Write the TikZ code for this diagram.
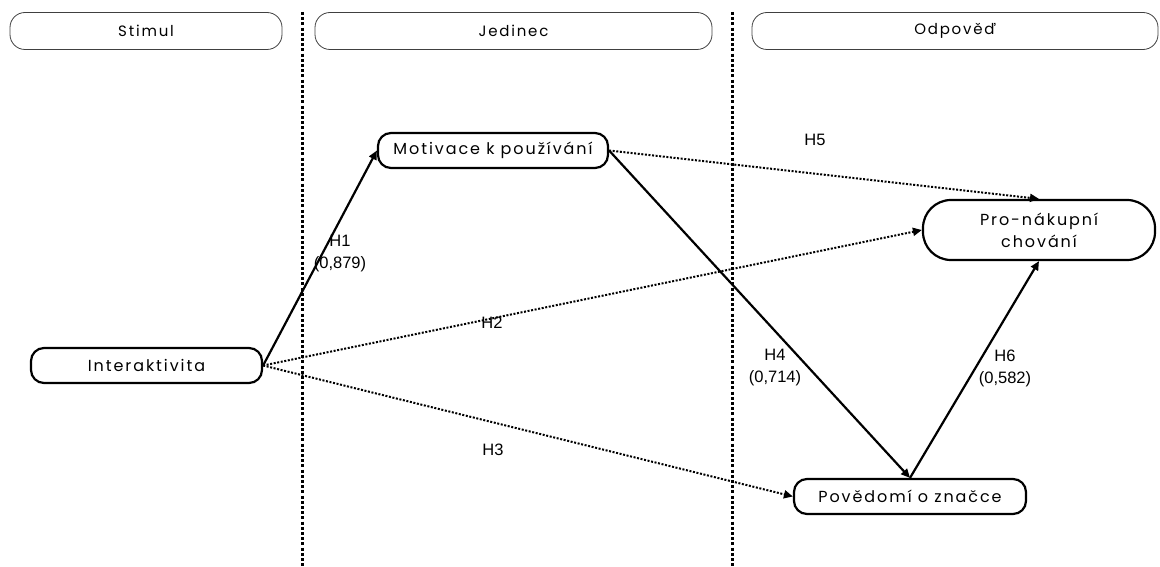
\documentclass[tikz,border=0pt]{standalone}
\usepackage{fontspec}
\setmainfont{Poppins}[LetterSpace=12]
\newfontfamily\labelfont{Liberation Sans}
\usetikzlibrary{arrows.meta}
\begin{document}
\begin{tikzpicture}[x=1pt,y=-1pt,
  header/.style={draw=black!75,line width=0.8pt,rounded corners=15pt,
    minimum height=37pt,inner sep=0pt,font=\fontsize{15}{17}\selectfont},
  factor/.style={draw,line width=2.2pt,rounded corners=13pt,minimum height=35pt,
    minimum width=230pt,inner sep=0pt,align=center,font=\fontsize{16}{22}\selectfont},
  pill/.style={factor,rounded corners=28pt,minimum height=60pt},
  strong/.style={line width=2.2pt,-{Triangle[length=9pt,width=8pt]}},
  weak/.style={line width=2pt,dash pattern=on 2pt off 1.6pt,-{Triangle[length=9pt,width=8pt]}},
  divider/.style={line width=3pt,dash pattern=on 3pt off 2.2pt},
  hyp/.style={font=\labelfont\fontsize{16.5}{22}\selectfont,align=center,inner sep=0pt}]
\useasboundingbox (0,0) rectangle (1160,567);

% column headers
\node[header,minimum width=272pt] (stimul) at (146,31) {Stimul};
\node[header,minimum width=397pt] (jedinec) at (513.5,31) {Jedinec};
\node[header,minimum width=406pt] (odpoved) at (955,31) {Odpověď};

% column dividers
\coordinate (d1top) at (302,12);
\coordinate (d1bot) at (302,567);
\coordinate (d2top) at (732,12);
\coordinate (d2bot) at (732,567);
\draw[divider] (d1top) -- (d1bot);
\draw[divider] (d2top) -- (d2bot);

% constructs
\node[factor,minimum width=231pt] (inter) at (146.5,365.5) {Interaktivita};
\node[factor] (motiv) at (493,150.5) {Motivace k používání};
\node[pill,minimum width=232pt] (nakup) at (1039,230) {Pro-nákupní\\chování};
\node[factor,minimum width=232pt] (povedomi) at (910,496.5) {Povědomí o značce};

% paths
\draw[strong] (inter.east) -- (motiv.west);
\draw[weak] (inter.east) -- (nakup.west);
\draw[weak] (inter.east) -- (povedomi.west);
\draw[weak] (motiv.east) -- (nakup.north);
\draw[strong] (motiv.east) -- (povedomi.north);
\draw[strong] (povedomi.north) -- (nakup.south);

% hypothesis labels
\node[hyp] (h1) at (340,254) {H1\\(0,879)};
\node[hyp] (h2) at (492,323) {H2};
\node[hyp] (h3) at (493,450) {H3};
\node[hyp] (h4) at (775,368) {H4\\(0,714)};
\node[hyp] (h5) at (815,140) {H5};
\node[hyp] (h6) at (1005,368) {H6\\(0,582)};
\end{tikzpicture}
\end{document}
